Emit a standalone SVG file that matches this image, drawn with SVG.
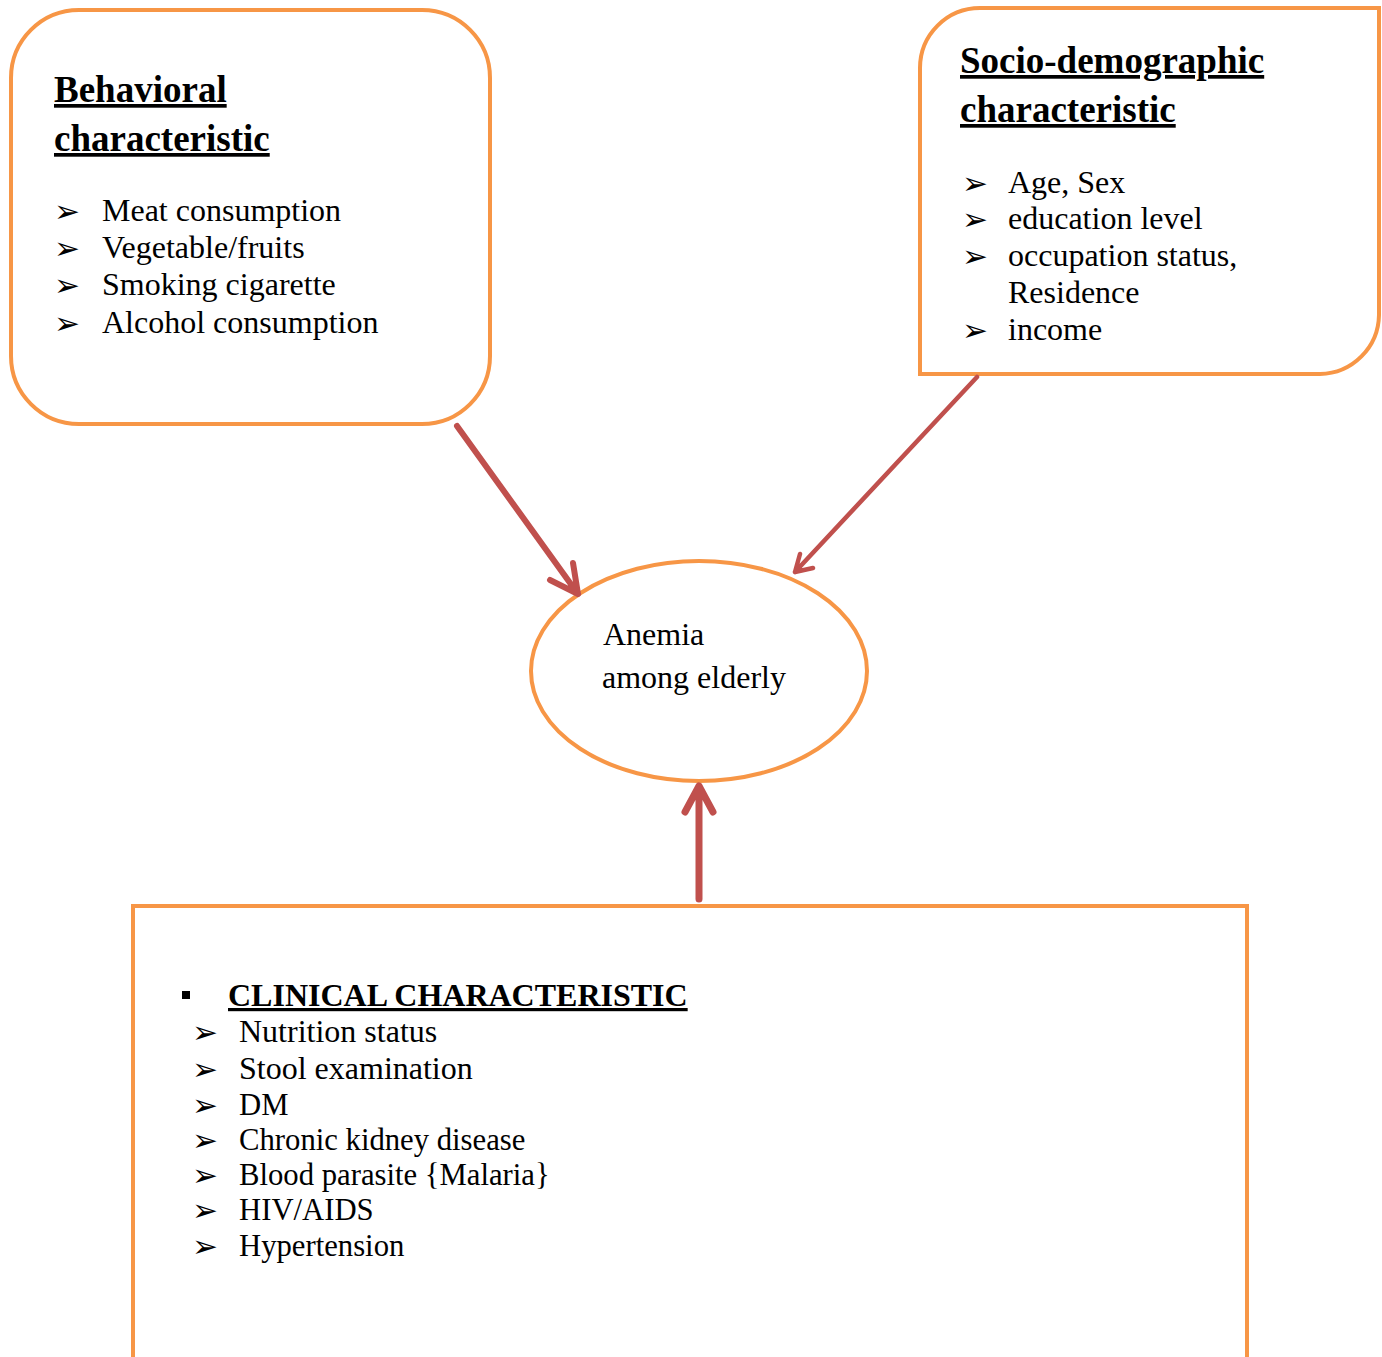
<svg xmlns="http://www.w3.org/2000/svg" width="1382" height="1357" viewBox="0 0 1382 1357">
<style>
.box{fill:#fff;stroke:#F79646;stroke-width:4}
.t{font-family:"Liberation Serif","Times New Roman",serif;font-size:32px;fill:#000}
.s{font-size:30.7px}
.h{font-family:"Liberation Serif","Times New Roman",serif;font-size:37px;font-weight:bold;text-decoration:underline;fill:#000}
.hc{font-family:"Liberation Serif","Times New Roman",serif;font-size:32px;font-weight:bold;text-decoration:underline;fill:#000}
.b{font-family:"DejaVu Sans",sans-serif;font-size:31px;fill:#000}
.arr{fill:none;stroke:#C0504D;stroke-linecap:round;stroke-linejoin:round}
</style>
<rect width="1382" height="1357" fill="#fff"/>
<g id="behavioral">
<rect class="box" x="11" y="10" width="479" height="414" rx="68" ry="68"/>
<text class="h" x="54" y="102">Behavioral</text>
<text class="h" x="54" y="151">characteristic</text>
<text class="b" x="54" y="222">➢</text>
<text class="t" x="102" y="221">Meat consumption</text>
<text class="b" x="54" y="259">➢</text>
<text class="t" x="102" y="258">Vegetable/fruits</text>
<text class="b" x="54" y="296">➢</text>
<text class="t" x="102" y="295">Smoking cigarette</text>
<text class="b" x="54" y="334">➢</text>
<text class="t" x="102" y="333">Alcohol consumption</text>
</g>
<g id="socio">
<path class="box" d="M920,374 L920,68 A60,60 0 0 1 980,8 L1379,8 L1379,315 A60,60 0 0 1 1320,374 Z"/>
<text class="h" x="960" y="73">Socio-demographic</text>
<text class="h" x="960" y="122">characteristic</text>
<text class="b" x="962" y="194">➢</text>
<text class="t" x="1008" y="193">Age, Sex</text>
<text class="b" x="962" y="230">➢</text>
<text class="t" x="1008" y="229">education level</text>
<text class="b" x="962" y="267">➢</text>
<text class="t" x="1008" y="266">occupation status,</text>
<text class="t" x="1008" y="303">Residence</text>
<text class="b" x="962" y="341">➢</text>
<text class="t" x="1008" y="340">income</text>
</g>
<g id="anemia">
<ellipse class="box" cx="699" cy="671" rx="168" ry="110"/>
<text class="t" x="603" y="645">Anemia</text>
<text class="t" x="602" y="688">among elderly</text>
</g>
<g id="clinical">
<path class="box" d="M133,1360 L133,906 L1247,906 L1247,1360"/>
<rect x="182" y="991" width="8" height="8" fill="#000"/>
<text class="hc" x="228" y="1006">CLINICAL CHARACTERISTIC</text>
<text class="b" x="192" y="1043">➢</text>
<text class="t" x="239" y="1042">Nutrition status</text>
<text class="b" x="192" y="1080">➢</text>
<text class="t" x="239" y="1079">Stool examination</text>
<text class="b" x="192" y="1116">➢</text>
<text class="t s" x="239" y="1115">DM</text>
<text class="b" x="192" y="1151">➢</text>
<text class="t s" x="239" y="1150">Chronic kidney disease</text>
<text class="b" x="192" y="1186">➢</text>
<text class="t s" x="239" y="1185">Blood parasite {Malaria}</text>
<text class="b" x="192" y="1221">➢</text>
<text class="t s" x="239" y="1220">HIV/AIDS</text>
<text class="b" x="192" y="1257">➢</text>
<text class="t s" x="239" y="1256">Hypertension</text>
</g>
<g id="connectors">
<path class="arr" stroke-width="6" d="M457,426 L578,594 M550,580 L578,594 L573,563"/>
<path class="arr" stroke-width="4.5" d="M977,377 L795,572 M800,554 L795,572 L813,568"/>
<path class="arr" stroke-width="7" d="M699,899 L699,786 M685,812 L699,786 L713,812"/>
</g>
</svg>
